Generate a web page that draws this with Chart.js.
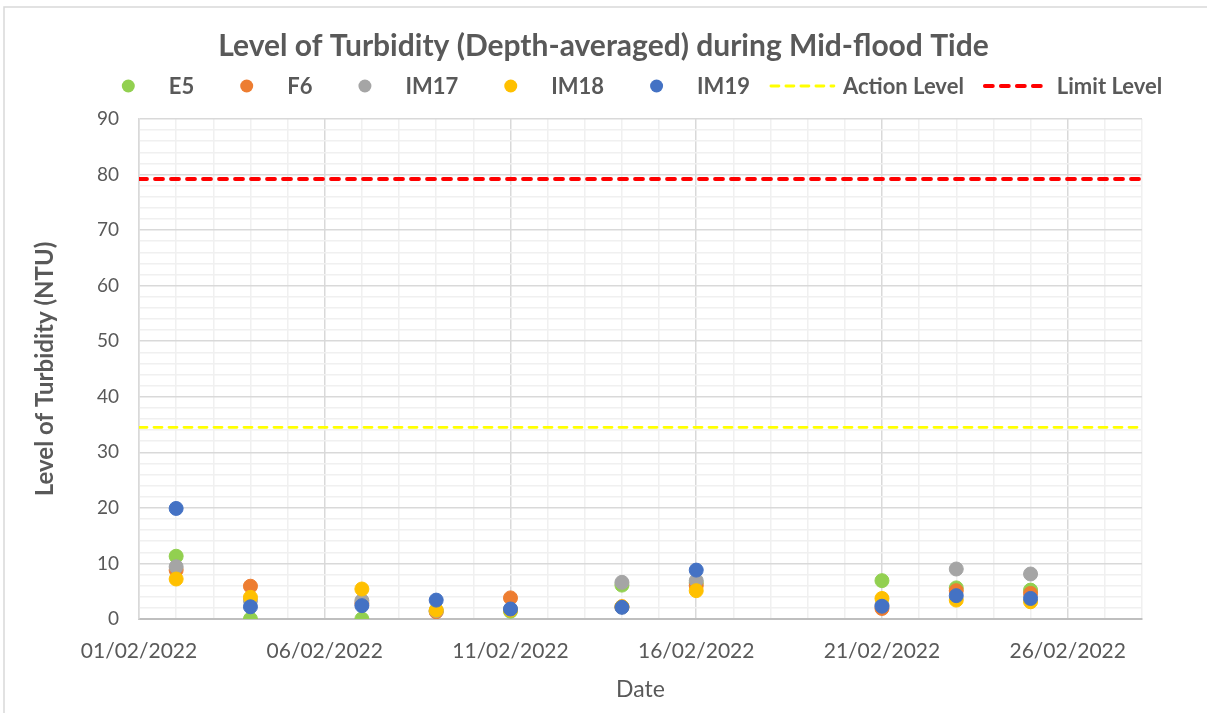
<!DOCTYPE html>
<html>
<head>
<meta charset="utf-8">
<title>Level of Turbidity (Depth-averaged) during Mid-flood Tide</title>
<script src="https://cdn.jsdelivr.net/npm/chart.js@4"></script>
<style>
  html, body { margin: 0; padding: 0; background: #ffffff; }
  #wrap { width: 1207px; height: 713px; }
</style>
</head>
<body>
<div id="wrap"><canvas id="turbChart" width="1207" height="713"></canvas></div>
<script>
// sampling days in February 2022
var days = [2, 4, 7, 9, 11, 14, 16, 21, 23, 25];

// depth-averaged turbidity (NTU) per station
var e5   = [11.3, 0.0, 0.0, 1.4, 1.4, 6.1, 6.5, 6.9, 5.6, 5.2];
var f6   = [8.8, 5.9, 2.8, 1.3, 3.8, 2.2, 6.0, 1.9, 5.1, 4.6];
var im17 = [9.4, 3.3, 3.3, 1.5, 1.7, 6.6, 6.9, 2.5, 9.0, 8.1];
var im18 = [7.2, 3.9, 5.4, 1.6, 1.6, 2.2, 5.1, 3.7, 3.4, 3.1];
var im19 = [19.9, 2.2, 2.4, 3.4, 1.8, 2.1, 8.8, 2.3, 4.2, 3.7];

var actionLevel = 34.5;
var limitLevel = 79.2;

var dayMin = 1, dayMax = 28;

var textGrey = '#595959';
Chart.defaults.font.family = 'Lato, "Open Sans", sans-serif';
Chart.defaults.color = textGrey;

function pts(vals) {
  return days.map(function (d, i) { return { x: d, y: vals[i] }; });
}

// lower order is drawn on top, so later stations sit above earlier ones
function station(label, vals, colour, order) {
  return {
    type: 'scatter',
    label: label,
    data: pts(vals),
    backgroundColor: colour,
    borderColor: colour,
    borderWidth: 1,
    pointRadius: 7,
    pointHoverRadius: 7,
    order: order
  };
}

function levelLine(label, value, colour, width, dash, order) {
  return {
    type: 'line',
    label: label,
    data: [{ x: dayMin, y: value }, { x: dayMax, y: value }],
    borderColor: colour,
    backgroundColor: colour,
    borderWidth: width,
    borderDash: dash,
    borderCapStyle: 'round',
    pointRadius: 0,
    fill: false,
    order: order
  };
}

function fmtDay(v) {
  return (v < 10 ? '0' + v : '' + v) + '/02/2022';
}

// light frame around the whole chart, like the Excel chart area
var framePlugin = {
  id: 'frame',
  beforeDraw: function (chart) {
    var ctx = chart.ctx;
    ctx.save();
    ctx.strokeStyle = '#d9d9d9';
    ctx.lineWidth = 1.5;
    ctx.strokeRect(4, 7, 1220, 730);
    ctx.restore();
  }
};

// Excel style legend: marker box, then label, in one centred row
var rowLegend = {
  id: 'rowLegend',
  afterDraw: function (chart) {
    var ctx = chart.ctx;
    var sets = chart.data.datasets;
    var box = 69, gapText = 6, gapItem = 18;
    ctx.save();
    ctx.font = 'bold 22px Lato, "Open Sans", sans-serif';
    var total = 0;
    sets.forEach(function (ds) {
      total += box + gapText + ctx.measureText(ds.label).width + gapItem;
    });
    total -= gapItem;
    var x = 628 - total / 2, y = 86;
    sets.forEach(function (ds) {
      if (ds.type === 'line') {
        ctx.strokeStyle = ds.borderColor;
        ctx.lineWidth = ds.borderWidth;
        ctx.lineCap = 'round';
        ctx.setLineDash(ds.borderDash);
        ctx.beginPath();
        ctx.moveTo(x + 3, y);
        ctx.lineTo(x + box - 3, y);
        ctx.stroke();
        ctx.setLineDash([]);
      } else {
        ctx.fillStyle = ds.backgroundColor;
        ctx.beginPath();
        ctx.arc(x + box / 2, y, 6.5, 0, Math.PI * 2);
        ctx.fill();
      }
      ctx.fillStyle = textGrey;
      ctx.textBaseline = 'middle';
      ctx.textAlign = 'left';
      ctx.fillText(ds.label, x + box + gapText, y + 1);
      x += box + gapText + ctx.measureText(ds.label).width + gapItem;
    });
    ctx.restore();
  }
};

var ctx = document.getElementById('turbChart');
var turbChart = new Chart(ctx, {
  type: 'scatter',
  data: {
    datasets: [
      station('E5', e5, '#92d050', 5),
      station('F6', f6, '#ed7d31', 4),
      station('IM17', im17, '#a5a5a5', 3),
      station('IM18', im18, '#ffc000', 2),
      station('IM19', im19, '#4472c4', 1),
      levelLine('Action Level', actionLevel, '#ffff00', 2.8, [8, 7], 6),
      levelLine('Limit Level', limitLevel, '#ff0000', 3.8, [8, 8], 7)
    ]
  },
  options: {
    responsive: false,
    animation: false,
    layout: { padding: { left: 0, right: 0, top: 0, bottom: 0 } },
    plugins: {
      legend: { display: false },
      tooltip: { enabled: false },
      title: {
        display: true,
        text: 'Level of Turbidity (Depth-averaged) during Mid-flood Tide',
        color: textGrey,
        font: { size: 30, weight: 'bold' },
        padding: { top: 28, bottom: 55 }
      }
    },
    scales: {
      x: {
        type: 'linear',
        min: dayMin,
        max: dayMax,
        afterFit: function (s) { s.height = 94; },
        ticks: {
          stepSize: 1,
          autoSkip: false,
          maxRotation: 0,
          padding: 20,
          color: textGrey,
          font: { size: 21 },
          callback: function (v) { return (v - dayMin) % 5 === 0 ? fmtDay(v) : ''; }
        },
        grid: {
          drawTicks: false,
          lineWidth: 1.5,
          color: function (c) { return (c.tick.value - dayMin) % 5 === 0 ? '#d9d9d9' : '#f0f0f0'; }
        },
        border: { color: '#bfbfbf', width: 2 },
        title: {
          display: true,
          text: 'Date',
          color: textGrey,
          font: { size: 23 },
          padding: { top: 0, bottom: 10 }
        }
      },
      y: {
        min: 0,
        max: 90,
        afterFit: function (s) { s.width = 139; },
        ticks: {
          stepSize: 2,
          autoSkip: false,
          padding: 20,
          color: textGrey,
          font: { size: 19 },
          callback: function (v) { return v % 10 === 0 ? v : ''; }
        },
        grid: {
          drawTicks: false,
          lineWidth: 1.5,
          color: function (c) { return c.tick.value % 10 === 0 ? '#d9d9d9' : '#f0f0f0'; }
        },
        border: { color: '#d9d9d9', width: 1.5 },
        title: {
          display: true,
          text: 'Level of Turbidity (NTU)',
          color: textGrey,
          font: { size: 24, weight: 'bold' },
          padding: { top: 31, bottom: 0 }
        }
      },
      // empty right-hand strip so the title centres on the whole chart
      yGap: {
        position: 'right',
        display: true,
        afterFit: function (s) { s.width = 65; },
        ticks: { display: false },
        grid: { display: false, drawTicks: false },
        border: { display: false }
      }
    }
  },
  plugins: [framePlugin, rowLegend]
});
</script>
</body>
</html>
